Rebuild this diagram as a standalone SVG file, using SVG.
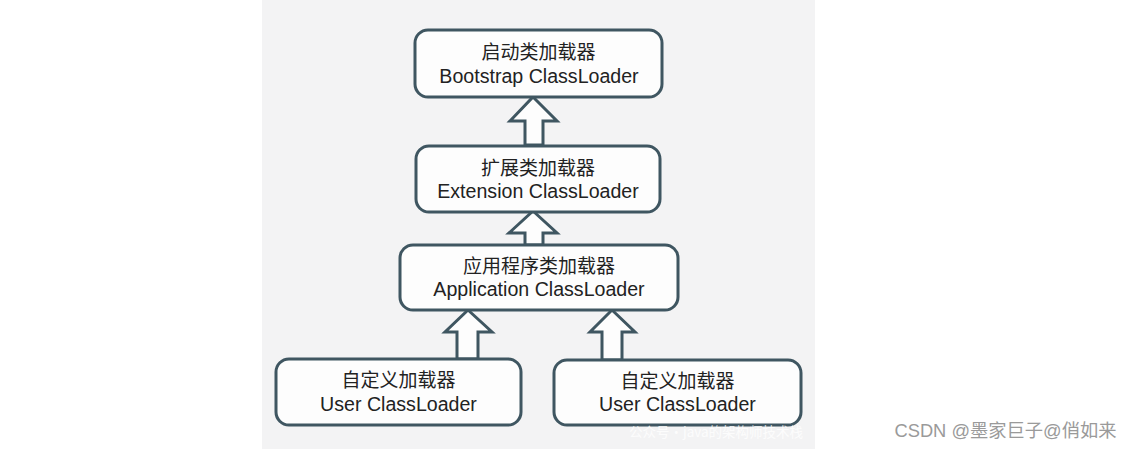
<svg xmlns="http://www.w3.org/2000/svg" width="1135" height="449" viewBox="0 0 1135 449">
<style>
.box{fill:#fdfdfd;stroke:#3f5661;stroke-width:3}
.arr{fill:#fdfdfd;stroke:#3f5661;stroke-width:3;stroke-linejoin:miter}
.t{font-family:"Liberation Sans","Noto Sans CJK SC",sans-serif;font-size:19px;fill:#222;text-anchor:middle}
.e{font-size:19.6px}
</style>
<rect x="0" y="0" width="1135" height="449" fill="#ffffff"/>
<rect x="262" y="0" width="553" height="449" fill="#f3f3f4"/>
<g id="connectors">
<path class="arr" d="M533,97 L557,121 L543,121 L543,145 L525,145 L525,121 L510,121 Z"/>
<path class="arr" d="M533,211 L557,233 L543,233 L543,245 L525,245 L525,233 L509,233 Z"/>
<path class="arr" d="M468,310 L492,332 L478,332 L478,359 L457,359 L457,332 L445,332 Z"/>
<path class="arr" d="M612,310 L635,332 L622,332 L622,360 L602,360 L602,332 L590,332 Z"/>
</g>
<g id="bootstrap">
<rect class="box" x="415" y="30" width="247" height="67" rx="13"/>
<text class="t" x="538.5" y="59">启动类加载器</text>
<text class="t e" x="539" y="83">Bootstrap ClassLoader</text>
</g>
<g id="extension">
<rect class="box" x="416" y="146" width="244" height="66" rx="13"/>
<text class="t" x="538" y="175">扩展类加载器</text>
<text class="t e" x="538" y="198">Extension ClassLoader</text>
</g>
<g id="application">
<rect class="box" x="400" y="245" width="278" height="65" rx="13"/>
<text class="t" x="539" y="273">应用程序类加载器</text>
<text class="t e" x="539" y="296">Application ClassLoader</text>
</g>
<g id="user1">
<rect class="box" x="276" y="359" width="245" height="66" rx="13"/>
<text class="t" x="398.5" y="387">自定义加载器</text>
<text class="t e" x="398.5" y="411">User ClassLoader</text>
</g>
<g id="user2">
<rect class="box" x="554" y="360" width="247" height="65" rx="13"/>
<text class="t" x="677.5" y="388">自定义加载器</text>
<text class="t e" x="677.5" y="411">User ClassLoader</text>
</g>
<text x="716" y="437" font-family="'Noto Sans CJK SC',sans-serif" font-size="13.5" fill="#ffffff" fill-opacity="0.8" text-anchor="middle">公众号·java的架构师技术栈</text>
<text x="1005.5" y="437" font-family="'Liberation Sans','Noto Sans CJK SC',sans-serif" font-size="18.3" fill="#9a9a9a" text-anchor="middle">CSDN @墨家巨子@俏如来</text>
</svg>
